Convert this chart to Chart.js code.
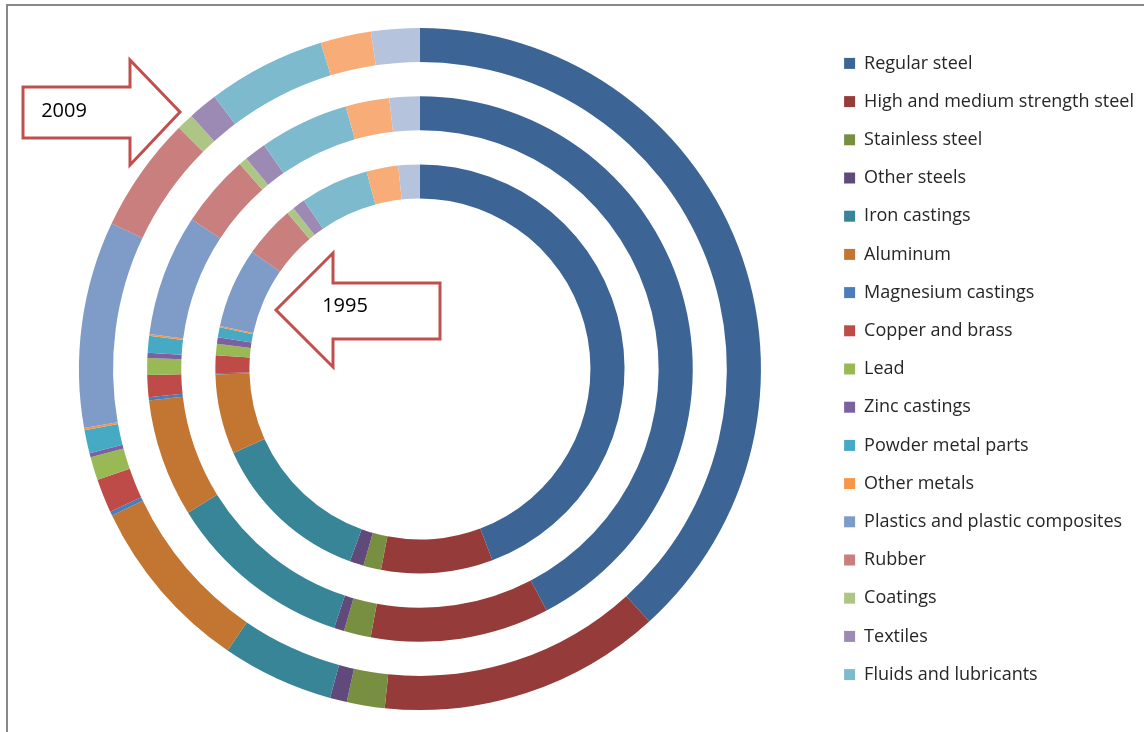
<!DOCTYPE html>
<html>
<head>
<title>Materials content of light vehicles</title>
<script src="https://cdn.jsdelivr.net/npm/chart.js@4.4.1/dist/chart.umd.min.js"></script>
<style>
  html, body { margin: 0; padding: 0; background: #fff; overflow: hidden; }
  .chart-frame {
    position: absolute;
    left: 6px;
    top: 4px;
    width: 1136px;
    height: 726px;
    border-left: 2px solid #888;
    border-top: 2px solid #888;
    border-bottom: 1px solid #eee;
  }
</style>
</head>
<body>
<div class="chart-frame"><canvas id="materialsChart"></canvas></div>
<script>
// Materials, in stacking order (clockwise from 12 o'clock)
const materials = [
  "Regular steel",
  "High and medium strength steel",
  "Stainless steel",
  "Other steels",
  "Iron castings",
  "Aluminum",
  "Magnesium castings",
  "Copper and brass",
  "Lead",
  "Zinc castings",
  "Powder metal parts",
  "Other metals",
  "Plastics and plastic composites",
  "Rubber",
  "Coatings",
  "Textiles",
  "Fluids and lubricants",
  "Glass",
  "Other materials",
];

// only the first 17 materials get a legend entry
const legendCount = 17;

// share of vehicle weight, %
const share2009 = [38.3, 13.4, 1.8, 0.8, 5.3, 8.4, 0.2, 1.6, 1.1, 0.2, 1.1, 0.1, 9.8, 5.5, 0.8, 1.4, 5.6, 2.4, 2.3];
const share2000 = [42.4, 10.6, 1.6, 0.6, 11.1, 7.0, 0.2, 1.3, 1.0, 0.3, 1.0, 0.1, 7.2, 4.3, 0.5, 1.3, 5.3, 2.6, 1.8];
const share1995 = [44.2, 8.8, 1.4, 1.1, 12.7, 6.3, 0.1, 1.4, 0.9, 0.5, 0.8, 0.1, 6.3, 4.1, 0.6, 1.0, 5.4, 2.5, 1.7];

const colors = [
  "#3C6595", "#953B39", "#788F41", "#604A7B", "#378597", "#C37632",
  "#4A7EBB", "#BE4B48", "#98B954", "#7D60A0", "#46AAC5", "#F79646",
  "#7F9BC8", "#C97F7D", "#AEC685", "#9C8AB5", "#7DBACE", "#F8AD78",
  "#B5C3DD",
];

const ring = (label, data) => ({
  label: label,
  data: data,
  backgroundColor: colors,
  hoverBackgroundColor: colors,
  borderWidth: 0,
});

// empty ring that leaves a white gap between the years
const gap = () => ({
  label: "",
  data: [1],
  backgroundColor: "rgba(0,0,0,0)",
  hoverBackgroundColor: "rgba(0,0,0,0)",
  borderWidth: 0,
});

// outline arrows with the year written inside
const yearArrows = {
  id: "yearArrows",
  afterDatasetsDraw(chart) {
    const ctx = chart.ctx;
    const shapes = [
      { text: "2009", tx: 56, ty: 105,
        pts: [[15, 81], [122, 81], [122, 54], [172, 106], [122, 159], [122, 132], [15, 132]] },
      { text: "1995", tx: 337, ty: 300,
        pts: [[432, 277], [325, 277], [325, 247], [268, 304], [325, 361], [325, 333], [432, 333]] },
    ];
    ctx.save();
    shapes.forEach((s) => {
      ctx.beginPath();
      s.pts.forEach((p, i) => (i ? ctx.lineTo(p[0], p[1]) : ctx.moveTo(p[0], p[1])));
      ctx.closePath();
      ctx.fillStyle = "#fff";
      ctx.fill();
      ctx.lineWidth = 3;
      ctx.strokeStyle = "#C0504D";
      ctx.lineJoin = "miter";
      ctx.stroke();
      ctx.fillStyle = "#000";
      ctx.font = "20px 'Open Sans'";
      ctx.textAlign = "center";
      ctx.textBaseline = "middle";
      ctx.fillText(s.text, s.tx, s.ty);
    });
    ctx.restore();
  },
};

new Chart(document.getElementById("materialsChart"), {
  type: "doughnut",
  data: {
    labels: materials,
    datasets: [
      ring("2009", share2009),
      gap(),
      ring("2000", share2000),
      gap(),
      ring("1995", share1995),
    ],
  },
  options: {
    responsive: true,
    maintainAspectRatio: false,
    animation: false,
    cutout: "50%",
    layout: { padding: { top: 22, bottom: 22, left: 8, right: 0 } },
    plugins: {
      legend: {
        position: "right",
        labels: {
          boxWidth: 11,
          boxHeight: 11,
          padding: 20.2,
          color: "#262626",
          font: { family: "'Open Sans'", size: 18 },
          filter: (item) => item.index < legendCount,
        },
      },
      tooltip: {
        filter: (item) => item.dataset.label !== "",
      },
    },
  },
  plugins: [yearArrows],
});
</script>
</body>
</html>
